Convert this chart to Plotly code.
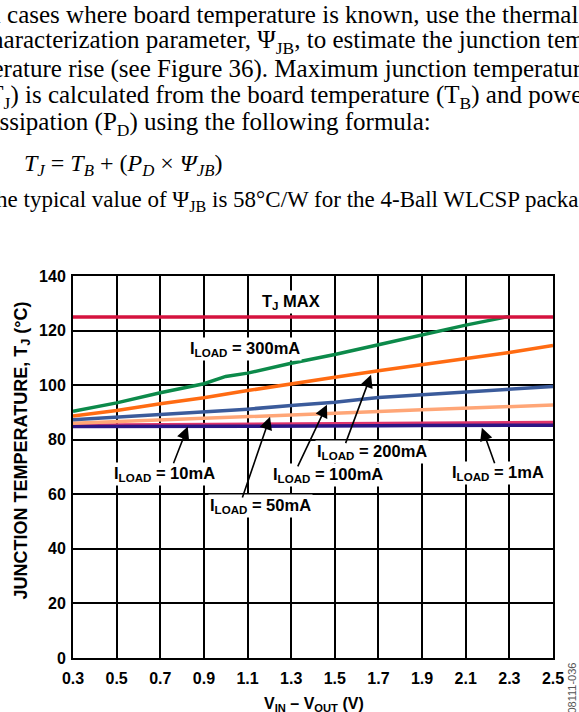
import plotly.graph_objects as go

# ---------------- data ----------------
vin = [0.3, 0.5, 0.7, 0.9, 1.1, 1.3, 1.5, 1.7, 1.9, 2.1, 2.3, 2.5]
vin_300 = [0.3, 0.5, 0.7, 0.9, 1.0, 1.1, 1.3, 1.5, 1.7, 1.9, 2.1, 2.3]
tj_300mA = [90.4, 93.5, 97.2, 100.5, 103.2, 104.4, 108.0, 111.2, 114.8, 118.5, 122.0, 125.2]
tj_200mA = [88.7, 90.7, 93.2, 95.4, 98.0, 100.6, 102.9, 105.3, 107.5, 109.6, 112.0, 114.5]
tj_100mA = [87.3, 88.3, 89.2, 90.0, 91.2, 92.5, 93.7, 95.5, 96.5, 97.3, 98.5, 99.5]
tj_50mA = [86.0, 86.6, 87.1, 87.6, 88.2, 88.8, 89.5, 90.3, 91.0, 91.6, 92.2, 92.7]
tj_10mA = [85.3, 85.4, 85.5, 85.6, 85.7, 85.8, 85.9, 86.0, 86.0, 86.1, 86.2, 86.3]
tj_1mA = [84.8, 84.8, 84.9, 84.9, 85.0, 85.0, 85.1, 85.1, 85.2, 85.2, 85.3, 85.3]
tj_max = [125, 125]
tj_max_x = [0.3, 2.5]
x_ticks = [0.3, 0.5, 0.7, 0.9, 1.1, 1.3, 1.5, 1.7, 1.9, 2.1, 2.3, 2.5]
y_ticks = [0, 20, 40, 60, 80, 100, 120, 140]

para_lines = [
    "In cases where board temperature is known, use the thermal",
    "characterization parameter, Ψ<sub>JB</sub>, to estimate the junction tem-",
    "perature rise (see Figure 36). Maximum junction temperature",
    "(T<sub>J</sub>) is calculated from the board temperature (T<sub>B</sub>) and power",
    "dissipation (P<sub>D</sub>) using the following formula:",
]
formula = "<i>T<sub>J</sub></i> = <i>T<sub>B</sub></i> + (<i>P<sub>D</sub></i> × <i>Ψ<sub>JB</sub></i>)"
para_last = "The typical value of Ψ<sub>JB</sub> is 58°C/W for the 4-Ball WLCSP package."

# ---------------- layout geometry ----------------
W, H = 579, 712
L, R, T, B = 73, 26, 276, 54
PW, PH = W - L - R, H - T - B


def px(xp):
    return (xp - L) / PW


def py(yp):
    return (H - B - yp) / PH


fig = go.Figure()

series = [
    (vin, tj_10mA, "#E0356C", "I_LOAD = 10mA"),
    (vin, tj_1mA, "#2C1585", "I_LOAD = 1mA"),
    (vin, tj_50mA, "#FFA677", "I_LOAD = 50mA"),
    (vin, tj_100mA, "#3B5B9B", "I_LOAD = 100mA"),
    (vin, tj_200mA, "#FF6B12", "I_LOAD = 200mA"),
    (vin_300, tj_300mA, "#0C8A4A", "I_LOAD = 300mA"),
    (tj_max_x, tj_max, "#D5123E", "TJ MAX"),
]
for xs, ys, col, name in series:
    fig.add_trace(go.Scatter(x=xs, y=ys, mode="lines", name=name,
                             line=dict(color=col, width=3.5), showlegend=False))

SANS = "Liberation Sans, Arial, sans-serif"
SERIF = "Liberation Serif, Times New Roman, serif"
lab_font = dict(family=SANS, size=16.5, color="black", weight="bold")

ann = []
# chart labels
labels = [
    (1.30, 130.6, "T<sub>J</sub> MAX"),
    (1.09, 113.4, "I<sub>LOAD</sub> = 300mA"),
    (1.67, 75.6, "I<sub>LOAD</sub> = 200mA"),
    (1.47, 67.0, "I<sub>LOAD</sub> = 100mA"),
    (0.72, 67.5, "I<sub>LOAD</sub> = 10mA"),
    (1.16, 55.8, "I<sub>LOAD</sub> = 50mA"),
    (2.25, 67.8, "I<sub>LOAD</sub> = 1mA"),
]
for x, y, t in labels:
    ann.append(dict(x=x, y=y, xref="x", yref="y", text=t, showarrow=False,
                    font=lab_font, bgcolor="white", borderpad=1))

arrows = [
    (0.826, 84.8, 0.758, 70.8),
    (1.203, 88.4, 1.074, 58.3),
    (1.464, 92.8, 1.327, 69.7),
    (1.666, 103.8, 1.547, 78.2),
    (2.174, 84.4, 2.235, 70.8),
]
for x, y, ax, ay in arrows:
    ann.append(dict(x=x, y=y, ax=ax, ay=ay, xref="x", yref="y", axref="x", ayref="y",
                    text="", showarrow=True, arrowhead=2, arrowsize=1.6, arrowwidth=1.6,
                    arrowcolor="black", standoff=0, startstandoff=0))

# axis titles
ann.append(dict(x=px(8), y=py(451), xref="paper", yref="paper", text="JUNCTION TEMPERATURE, T<sub>J</sub> (°C)",
                textangle=-90, showarrow=False, font=dict(family=SANS, size=18, color="black", weight="bold")))
ann.append(dict(x=px(314), y=py(716), xref="paper", yref="paper", text="V<sub>IN</sub> – V<sub>OUT</sub> (V)",
                showarrow=False, font=dict(family=SANS, size=16, color="black", weight="bold")))
ann.append(dict(x=px(579), y=py(716), xref="paper", yref="paper", text="08111-036",
                textangle=-90, showarrow=False, font=dict(family=SANS, size=11, color="#555555")))

# paragraph text
line_y = [14, 42, 69, 97, 124]
for t, yy in zip(para_lines, line_y):
    ann.append(dict(x=px(-22), y=py(yy), xref="paper", yref="paper", text=t, showarrow=False,
                    xanchor="left", yanchor="middle", height=26,
                    font=dict(family=SERIF, size=25, color="black")))
ann.append(dict(x=px(22), y=py(165), xref="paper", yref="paper", text=formula, showarrow=False,
                xanchor="left", yanchor="middle", height=26,
                font=dict(family=SERIF, size=24, color="black")))
ann.append(dict(x=px(-20), y=py(201), xref="paper", yref="paper", text=para_last, showarrow=False,
                xanchor="left", yanchor="middle", height=26,
                font=dict(family=SERIF, size=23, color="black")))

axis_common = dict(showgrid=True, gridcolor="black", gridwidth=1.5, showline=True, mirror=True,
                   linecolor="black", linewidth=2, zeroline=False, ticks="",
                   tickfont=dict(family=SANS, size=16, color="black", weight="bold"))

fig.update_layout(
    width=W, height=H,
    margin=dict(l=L, r=R, t=T, b=B, pad=0),
    paper_bgcolor="white", plot_bgcolor="white",
    xaxis=dict(range=[0.3, 2.5], tickvals=x_ticks, ticktext=[f"{v:.1f}" for v in x_ticks],
               ticklabelstandoff=5, **axis_common),
    yaxis=dict(range=[0, 140], tickvals=y_ticks, ticklabelstandoff=2, **axis_common),
    annotations=ann,
)

fig.write_html("out.html", config={"displayModeBar": False},
               post_script="document.body.style.margin='0px';")
